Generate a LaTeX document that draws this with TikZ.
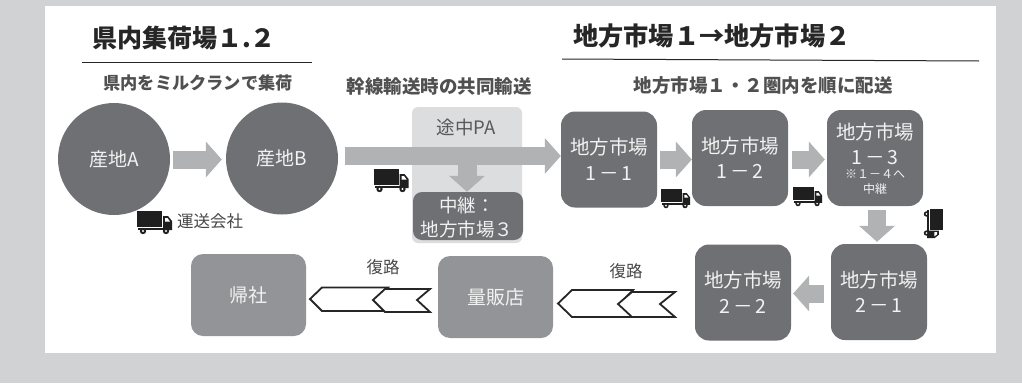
\documentclass[tikz,border=0pt]{standalone}
\usepackage{fontspec}
\setmainfont{Noto Sans CJK JP}
\usetikzlibrary{arrows.meta}
\definecolor{pagegray}{HTML}{D1D2D4}
\definecolor{darkbox}{HTML}{6F7074}
\definecolor{midbox}{HTML}{939497}
\definecolor{pabox}{HTML}{DCDDDE}
\definecolor{blockarrow}{HTML}{B1B2B4}
\definecolor{titleink}{HTML}{262626}
\definecolor{subink}{HTML}{505050}
\definecolor{boxtext}{HTML}{F2F2F2}
\newcommand{\dgap}{\hspace{2.5pt}}
\tikzset{
  x=1pt,y=-1pt,
  circ/.style={circle,fill=darkbox,draw=none,minimum size=112pt,inner sep=0pt,text=boxtext,font=\fontsize{19}{24}\selectfont},
  sqbox/.style={rectangle,rounded corners=14pt,fill=darkbox,minimum width=96pt,minimum height=96pt,inner sep=0pt,text=boxtext,align=center,font=\fontsize{19.5}{25.5}\selectfont},
  midsq/.style={rectangle,rounded corners=12pt,fill=midbox,minimum width=115pt,minimum height=82pt,inner sep=0pt,text=boxtext,font=\fontsize{19}{24}\selectfont},
  title/.style={inner sep=0pt,anchor=west,text=titleink,font=\fontsize{25}{30}\selectfont\bfseries},
  subtitle/.style={inner sep=0pt,text=subink,font=\fontsize{17.2}{22}\selectfont\bfseries},
  plain/.style={inner sep=0pt,text=titleink!85!white,font=\fontsize{16.5}{20}\selectfont},
  blockA/.style={draw=blockarrow,line width=18pt,-{Triangle[width=35pt,length=16pt,fill=blockarrow]}},
  chev/.style={draw=titleink,line width=1.8pt,fill=white,line join=miter},
  rule/.style={draw=titleink,line width=1pt}
}
\newcommand{\trucktoken}[4]{% x, y, rotation, scale
  \begin{scope}[shift={(#1,#2)},rotate=#3,scale=#4]
    \fill[black!88] (0,0) rectangle (25,16);
    \fill[black!88] (26,5) -- (31,5) -- (35,10) -- (35,19) -- (26,19) -- cycle;
    \fill[white] (28,7) -- (30.5,7) -- (33,10.5) -- (28,10.5) -- cycle;
    \fill[black!88] (1,17) rectangle (27,19);
    \fill[black!88] (6,20) circle (3.2);
    \fill[black!88] (29,20) circle (3.2);
    \fill[white] (6,20) circle (1.1);
    \fill[white] (29,20) circle (1.1);
  \end{scope}}
\begin{document}
\begin{tikzpicture}
\useasboundingbox (0,0) rectangle (1022,383);
\fill[pagegray] (0,0) rectangle (1022,383);
\fill[white] (45,6) rectangle (996,353);

% headings
\node[title] (t1) at (92,38) {県内集荷場１.２};
\node[title,font=\fontsize{25.2}{30}\selectfont\bfseries] (t2) at (573,36) {地方市場１→地方市場２};
\coordinate (r1a) at (82,62); \coordinate (r1b) at (312,62);
\coordinate (r2a) at (562,59); \coordinate (r2b) at (979,61);
\draw[rule] (r1a) -- (r1b);
\draw[rule] (r2a) -- (r2b);
\node[subtitle] (s1) at (198,83) {県内をミルクランで集荷};
\node[subtitle,font=\fontsize{18.5}{22}\selectfont\bfseries] (s2) at (439,86) {幹線輸送時の共同輸送};
\node[subtitle,font=\fontsize{18.5}{22}\selectfont\bfseries] (s3) at (763,85) {地方市場１・２圏内を順に配送};

% PA panel and relay
\node[rectangle,rounded corners=6pt,fill=pabox,minimum width=110pt,minimum height=136pt,inner sep=0pt] (pa) at (467,175) {};
\node[inner sep=0pt,text=black!65,font=\fontsize{18.5}{22}\selectfont] (patext) at (466,127) {途中PA};
\node[sqbox,minimum width=110pt,minimum height=48pt,rounded corners=9pt] (relay) at (468,216) {};
\node[inner sep=0pt,text=boxtext,align=center,font=\fontsize{18.5}{24}\selectfont] (relaytext) at (467,218) {中継：\\地方市場３};

% nodes
\node[circ] (A) at (114,159) {産地A};
\node[circ] (B) at (282,158.5) {産地B};
\node[sqbox] (m11) at (609,159.5) {地方市場\\1\dgap－\dgap 1};
\node[sqbox] (m12) at (740,158) {地方市場\\1\dgap－\dgap 2};
\node[sqbox,anchor=center] (m13) at (875,158) {};
\node[inner sep=0pt,text=boxtext,font=\fontsize{19.5}{25}\selectfont,align=center] (m13a) at (875,143.5) {地方市場\\1\dgap－\dgap 3};
\node[inner sep=0pt,text=boxtext,font=\fontsize{12}{15}\selectfont,align=center] (m13b) at (875,182.5) {※１－４へ\\中継};
\node[sqbox] (m21) at (879,292) {地方市場\\2\dgap－\dgap 1};
\node[sqbox] (m22) at (743,292.5) {地方市場\\2\dgap－\dgap 2};
\node[midsq] (store) at (495.5,297) {量販店};
\node[midsq] (home) at (248.5,295) {帰社};

% block arrows (yshift acts on the page: positive is up)
\draw[blockA] ([xshift=3pt,yshift=-0.5pt]A.east) -- ([xshift=-4pt,yshift=-1pt]B.west);
\coordinate (drop) at (467,160);
\draw[blockA,line width=19pt] (drop) -- (relay.north-|drop);
\draw[blockA] ([xshift=7pt,yshift=2.5pt]B.east) -- ([yshift=3.5pt]m11.west);
\draw[blockA] ([xshift=3pt]m11.east) -- ([yshift=-1.5pt]m12.west);
\draw[blockA] ([xshift=4pt,yshift=-1.5pt]m12.east) -- ([yshift=-1.5pt,xshift=-2pt]m13.west);
\coordinate (downx) at (877,200);
\draw[blockA] ([yshift=-4pt]m13.south-|downx) -- ([yshift=2pt]m21.north-|downx);
\draw[blockA] ([xshift=-7pt,yshift=-1.5pt]m21.west) -- ([xshift=2pt,yshift=-1pt]m22.east);

% return chevrons
\draw[chev] (310,299) -- (322,287.5) -- (388,287.5) -- (376,299) -- (388,311) -- (322,311) -- cycle;
\draw[chev] (373,300) -- (385,289) -- (430,289) -- (417,300) -- (430,312) -- (385,312) -- cycle;
\draw[chev] (558,303.5) -- (572,290) -- (633,290) -- (620,303.5) -- (633,317) -- (572,317) -- cycle;
\draw[chev] (618,304) -- (632,292) -- (675,292) -- (660,304) -- (675,317) -- (632,317) -- cycle;
\node[plain] (r1) at (383,267) {復路};
\node[plain] (r2) at (626,271) {復路};

% trucks
\trucktoken{137}{211}{0}{1}
\node[plain,anchor=west] (co) at (177,221) {運送会社};
\trucktoken{373.5}{169}{0}{1}
\trucktoken{661}{189}{0}{0.83}
\trucktoken{793}{187}{0}{0.83}
\trucktoken{943}{209}{-90}{0.83}
\end{tikzpicture}
\end{document}
